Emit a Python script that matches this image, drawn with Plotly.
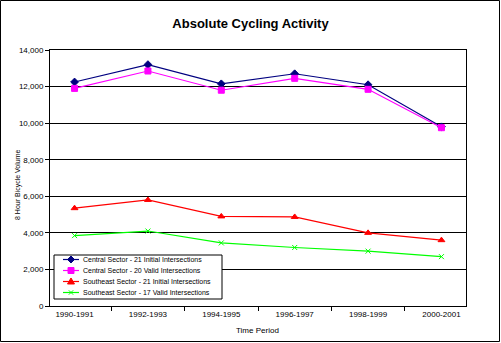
import plotly.graph_objects as go

periods = ["1990-1991", "1992-1993", "1994-1995", "1996-1997", "1998-1999", "2000-2001"]
central_initial = [12250, 13200, 12150, 12700, 12100, 9800]
central_valid = [11900, 12850, 11800, 12450, 11850, 9750]
southeast_initial = [5350, 5800, 4900, 4870, 4000, 3600]
southeast_valid = [3850, 4100, 3450, 3200, 3000, 2700]

series = [
    ("Central Sector - 21 Initial Intersections", central_initial, "#000080", "diamond", 6),
    ("Central Sector - 20 Valid Intersections", central_valid, "#FF00FF", "square", 6),
    ("Southeast Sector - 21 Initial Intersections", southeast_initial, "#FF0000", "triangle-up", 6),
    ("Southeast Sector - 17 Valid Intersections", southeast_valid, "#00FF00", "x-thin-open", 5),
]

W, H = 501, 343
L, R, T, B = 50, 35, 50, 37
pw, ph = W - L - R, H - T - B


def px(x):
    return (x - L) / pw


def py(y):
    return (H - B - y) / ph


def path(points, close=True):
    s = "M " + " L ".join(f"{px(x):.5f},{py(y):.5f}" for x, y in points)
    return s + (" Z" if close else "")


def glyph(sym, cx, cy):
    """Legend sample marker as a path in paper coordinates."""
    if sym == "diamond":
        return path([(cx, cy - 3.5), (cx + 3.5, cy), (cx, cy + 3.5), (cx - 3.5, cy)]), True
    if sym == "square":
        return path([(cx - 3, cy - 3), (cx + 3, cy - 3), (cx + 3, cy + 3), (cx - 3, cy + 3)]), True
    if sym == "triangle-up":
        return path([(cx, cy - 3.5), (cx + 3.5, cy + 2.5), (cx - 3.5, cy + 2.5)]), True
    d = 2.2
    return (path([(cx - d, cy - d), (cx + d, cy + d)], False) + " " +
            path([(cx - d, cy + d), (cx + d, cy - d)], False)), False


fig = go.Figure()
for name, vals, color, sym, sz in series:
    fig.add_trace(go.Scatter(
        x=periods, y=vals, name=name, mode="lines+markers", showlegend=False,
        line=dict(color=color, width=1.2),
        marker=dict(symbol=sym, size=sz, color=color, line=dict(color=color, width=1)),
    ))

# compact legend: white box, sample line + marker, label
leg_left, leg_right, leg_top, leg_bottom = 54, 222, 255, 299
row_y = [259.5, 270.5, 281.5, 292.5]
fig.add_shape(type="rect", xref="paper", yref="paper",
              x0=px(leg_left), x1=px(leg_right), y0=py(leg_bottom), y1=py(leg_top),
              line=dict(color="black", width=1), fillcolor="white", layer="above")
for (name, _, color, sym, sz), ry in zip(series, row_y):
    fig.add_shape(type="line", xref="paper", yref="paper",
                  x0=px(63), x1=px(79), y0=py(ry), y1=py(ry),
                  line=dict(color=color, width=1.2), layer="above")
    d, filled = glyph(sym, 71, ry)
    fig.add_shape(type="path", xref="paper", yref="paper", path=d,
                  line=dict(color=color, width=1),
                  fillcolor=color if filled else "rgba(0,0,0,0)", layer="above")
    fig.add_annotation(x=px(81), y=py(ry), xref="paper", yref="paper", text=name,
                       showarrow=False, xanchor="left", yanchor="middle",
                       font=dict(size=7))

fig.update_layout(
    width=W, height=H,
    margin=dict(l=L, r=R, t=T, b=B, autoexpand=False),
    paper_bgcolor="white", plot_bgcolor="white",
    font=dict(family="Arial, Liberation Sans, sans-serif", size=8, color="black"),
    title=dict(text="<b>Absolute Cycling Activity</b>", x=0.5, xanchor="center",
               y=1 - 23 / H, yanchor="middle", font=dict(size=13)),
    showlegend=False,
    xaxis=dict(
        type="category", showline=True, linecolor="black", linewidth=1, mirror=True,
        ticks="outside", ticklen=4, tickcolor="black", tickson="boundaries",
        showgrid=False, tickfont=dict(size=8), automargin=False,
    ),
    yaxis=dict(
        range=[0, 14000], dtick=2000, tickformat=",d",
        showline=True, linecolor="black", linewidth=1, mirror=True,
        ticks="outside", ticklen=4, tickcolor="black",
        showgrid=True, gridcolor="black", gridwidth=1,
        zeroline=False, tickfont=dict(size=8), automargin=False,
    ),
    annotations=list(fig.layout.annotations) + [
        dict(text="Time Period", x=px(257), y=py(330), xref="paper", yref="paper",
             showarrow=False, xanchor="center", yanchor="middle", font=dict(size=8)),
        dict(text="8 Hour Bicycle Volume", x=px(18), y=py(185), xref="paper", yref="paper",
             showarrow=False, xanchor="center", yanchor="middle", textangle=-90,
             font=dict(size=7)),
    ],
)

# outer frame around the whole chart
fig.add_shape(type="rect", xref="paper", yref="paper",
              x0=px(0.5), x1=px(W - 1.5), y0=py(H - 1.5), y1=py(0.5),
              line=dict(color="black", width=1), fillcolor="rgba(0,0,0,0)")

fig.write_html("out.html")
